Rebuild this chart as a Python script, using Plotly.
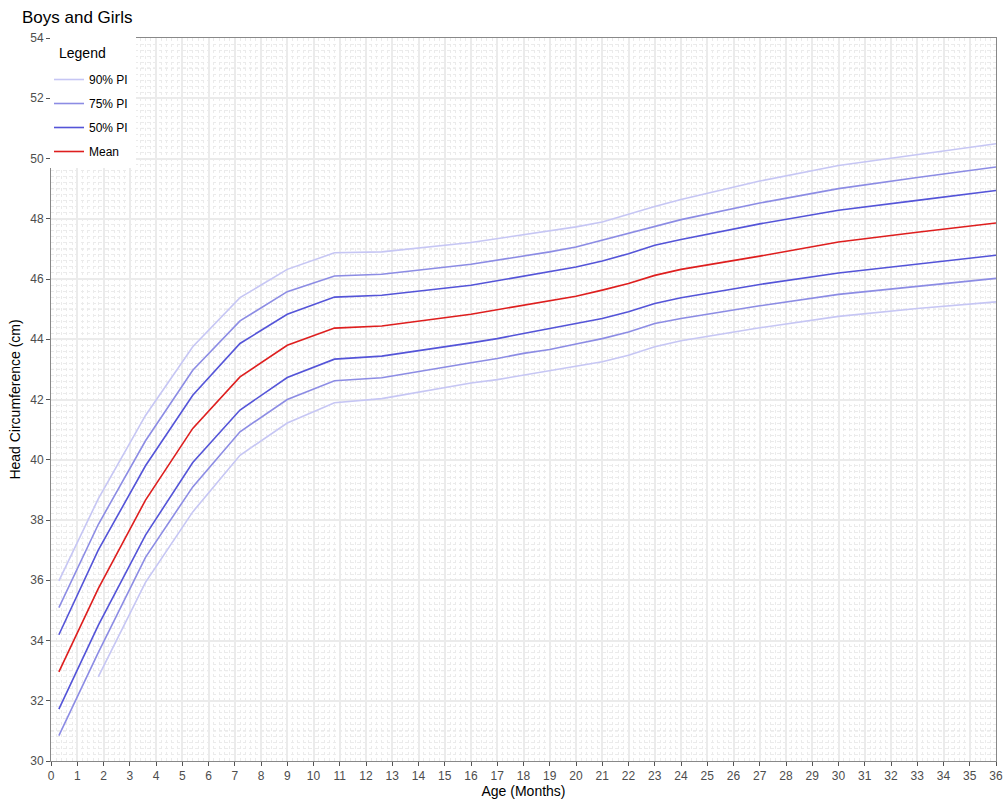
import plotly.graph_objects as go

age = [0.3, 1.8, 3.6, 5.4, 7.2, 9.0, 10.8, 12.6, 16, 17, 18, 19, 20, 21, 22, 23, 24, 27, 30, 33, 36]

mean = [32.96, 35.72, 38.66, 41.04, 42.75, 43.80, 44.37, 44.44, 44.83, 44.98, 45.15, 45.30, 45.43, 45.63, 45.85, 46.12, 46.32, 46.76, 47.23, 47.55, 47.86]
pi50_upper = [34.19, 37.0, 39.8, 42.14, 43.86, 44.83, 45.40, 45.46, 45.79, 45.94, 46.09, 46.24, 46.40, 46.60, 46.84, 47.12, 47.31, 47.83, 48.28, 48.61, 48.94]
pi50_lower = [31.72, 34.5, 37.5, 39.91, 41.65, 42.73, 43.34, 43.44, 43.88, 44.02, 44.19, 44.36, 44.52, 44.69, 44.91, 45.19, 45.38, 45.82, 46.20, 46.49, 46.79]
pi75_upper = [35.09, 37.85, 40.63, 42.97, 44.61, 45.58, 46.10, 46.16, 46.49, 46.62, 46.77, 46.90, 47.06, 47.29, 47.53, 47.75, 47.97, 48.52, 49.0, 49.37, 49.72]
pi75_lower = [30.84, 33.6, 36.76, 39.1, 40.93, 42.0, 42.62, 42.72, 43.22, 43.36, 43.53, 43.66, 43.84, 44.02, 44.24, 44.52, 44.69, 45.11, 45.49, 45.76, 46.02]
pi90_upper = [35.98, 38.7, 41.47, 43.75, 45.38, 46.32, 46.87, 46.90, 47.21, 47.34, 47.48, 47.60, 47.73, 47.89, 48.15, 48.41, 48.64, 49.25, 49.77, 50.14, 50.49]
pi90_lower = [None, 32.79, 35.93, 38.27, 40.15, 41.22, 41.89, 42.03, 42.55, 42.66, 42.81, 42.97, 43.11, 43.25, 43.47, 43.75, 43.95, 44.38, 44.76, 45.02, 45.24]

x_ticks = list(range(0, 37))
y_ticks = list(range(30, 55, 2))

C90 = "rgb(198,198,244)"
C75 = "rgb(140,140,228)"
C50 = "rgb(84,84,216)"
CMEAN = "rgb(222,30,30)"

FONT = "Liberation Sans, Arial, sans-serif"

W, H = 1005, 800
ML, MR, MT, MB = 51, 9, 38, 39
PW = W - ML - MR
PH = H - MT - MB


def px_x(px):
    return (px - ML) / PW


def px_y(py):
    return (H - MB - py) / PH


fig = go.Figure()

series = [
    ("90% PI", C90, pi90_upper, pi90_lower, "g1"),
    ("75% PI", C75, pi75_upper, pi75_lower, "g2"),
    ("50% PI", C50, pi50_upper, pi50_lower, "g3"),
]
for name, col, up, lo, grp in series:
    fig.add_trace(go.Scatter(x=age, y=up, mode="lines", name=name, legendgroup=grp,
                             line=dict(color=col, width=1.6), connectgaps=False))
    fig.add_trace(go.Scatter(x=age, y=lo, mode="lines", name=name, legendgroup=grp,
                             showlegend=False, line=dict(color=col, width=1.6), connectgaps=False))
fig.add_trace(go.Scatter(x=age, y=mean, mode="lines", name="Mean", legendgroup="g4",
                         line=dict(color=CMEAN, width=1.6)))

shapes = []
# odd-cm dotted reference lines (slightly stronger than the fine grid)
for v in range(31, 54, 2):
    shapes.append(dict(type="line", xref="paper", x0=0, x1=1, yref="y", y0=v, y1=v,
                       line=dict(color="#d8d8d8", width=1, dash="dot"), layer="below"))
# white legend panel
shapes.append(dict(type="rect", xref="paper", yref="paper",
                   x0=px_x(ML - 1), x1=px_x(136), y0=px_y(168), y1=px_y(MT - 1),
                   fillcolor="white", line=dict(width=0), layer="above"))

annotations = [dict(text="Legend", xref="paper", yref="paper", x=px_x(57), y=px_y(53),
                    xanchor="left", yanchor="middle", showarrow=False,
                    font=dict(family=FONT, size=14, color="black"))]

fig.update_layout(
    width=W, height=H,
    margin=dict(l=ML, r=MR, t=MT, b=MB),
    paper_bgcolor="white", plot_bgcolor="white",
    font=dict(family=FONT, size=12, color="#4d4d4d"),
    title=dict(text="Boys and Girls", x=22/W, xref="container", xanchor="left",
               y=1 - 11/H, yref="container", yanchor="top",
               font=dict(family=FONT, size=17, color="black")),
    legend=dict(x=px_x(ML - 2), y=px_y(65), xanchor="left", yanchor="top", bgcolor="rgba(255,255,255,0)",
                font=dict(family=FONT, size=12, color="black"),
                traceorder="grouped", tracegroupgap=5, itemwidth=30),
    shapes=shapes,
    annotations=annotations,
    showlegend=True,
)

fig.update_xaxes(
    range=[0, 36], tickmode="array", tickvals=x_ticks, ticktext=[str(t) for t in x_ticks],
    ticks="outside", ticklen=4, tickcolor="#555555", tickwidth=1,
    showline=True, linecolor="#888888", linewidth=1, mirror=True,
    showgrid=True, gridcolor="#ebebeb", gridwidth=2,
    minor=dict(dtick=0.2, tick0=0, showgrid=True, gridcolor="#ebebeb", gridwidth=1, griddash="dot"),
    zeroline=False, automargin=False,
    title=dict(text="Age (Months)", font=dict(family=FONT, size=14, color="black"), standoff=2),
    tickfont=dict(family=FONT, size=12, color="#4d4d4d"),
)
fig.update_yaxes(
    range=[30, 54], tickmode="array", tickvals=y_ticks, ticktext=[str(t) for t in y_ticks],
    ticks="outside", ticklen=4, tickcolor="#555555", tickwidth=1,
    showline=True, linecolor="#888888", linewidth=1, mirror=True,
    showgrid=True, gridcolor="#ebebeb", gridwidth=2,
    minor=dict(dtick=0.2, tick0=30, showgrid=True, gridcolor="#ebebeb", gridwidth=1, griddash="dot"),
    zeroline=False, automargin=False,
    title=dict(text="Head Circumference (cm)", font=dict(family=FONT, size=14, color="black"), standoff=6),
    tickfont=dict(family=FONT, size=12, color="#4d4d4d"),
)

fig.write_html("out.html")
